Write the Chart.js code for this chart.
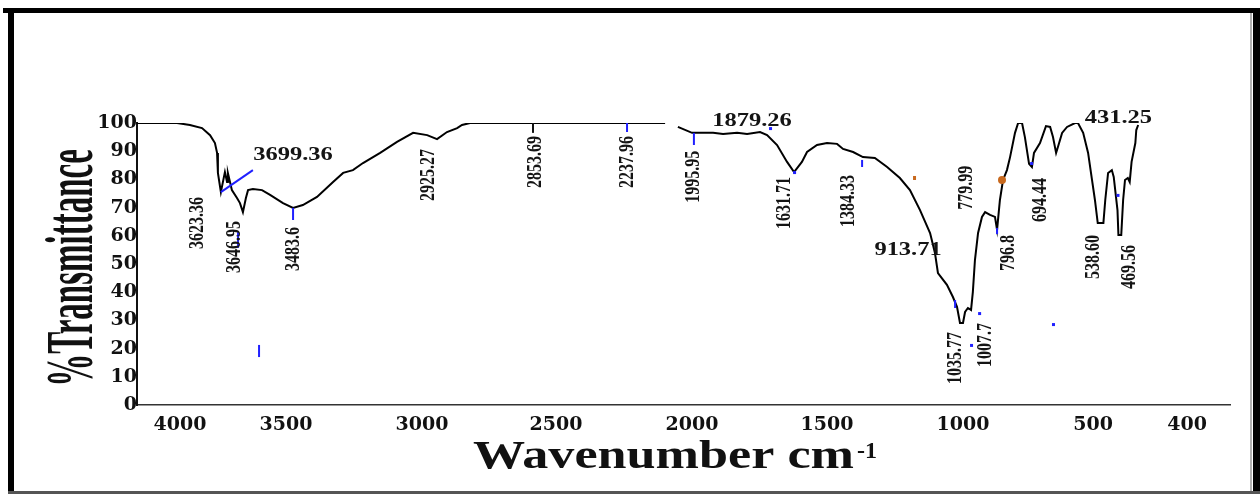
<!DOCTYPE html>
<html>
<head>
<meta charset="utf-8">
<title>FTIR spectrum</title>
<script src="https://cdn.jsdelivr.net/npm/chart.js@4.4.1/dist/chart.umd.min.js"></script>
<style>
    body { margin: 0; background: #ffffff; }
    canvas { display: block; }
</style>
</head>
<body>
<canvas id="ftirChart" width="1260" height="495"></canvas>
<script>
// x axis labels as printed (cm-1) and where each one sits along the axis (0 = left end, 1 = right end)
var tickLabels = [4000, 3500, 3000, 2500, 2000, 1500, 1000, 500, 400];
var tickPos = [0.0393, 0.1363, 0.2608, 0.3834, 0.5078, 0.6313, 0.7557, 0.8747, 0.9607];

// spectrum: wavenumber on the printed axis, % transmittance (null = gap in the trace)
var wavenumber = [4203, 4014, 3953, 3896, 3858, 3835, 3825, 3821, 3807, 3788,
    3778, 3774, 3755, 3731, 3717, 3703, 3689, 3679, 3656, 3613,
    3575, 3514, 3474, 3438, 3386, 3327, 3290, 3254, 3217, 3154,
    3092, 3033, 2981, 2944, 2907, 2869, 2851, 2821, 2099, 2075,
    2052, 2000, 1970, 1922, 1885, 1833, 1796, 1748, 1722, 1685,
    1648, 1622, 1593, 1574, 1537, 1500, 1463, 1441, 1404, 1368,
    1324, 1279, 1232, 1195, 1158, 1121, 1103, 1092, 1059, 1037,
    1022, 1011, 1000, 992, 981, 969, 962, 954, 942, 927,
    915, 896, 877, 869, 858, 846, 831, 819, 800, 788,
    773, 762, 746, 735, 727, 704, 681, 665, 654, 642,
    635, 619, 600, 569, 558, 538, 519, 504, 498, 495,
    489, 487, 484, 480, 478, 474, 473, 470, 468, 466,
    463, 461, 459, 455, 454, 452];
var transmittance = [100, 100, 99.3, 98.2, 95.7, 92.9, 89.4, 82.3, 75.5, 82.6,
    79.1, 82.3, 76.2, 73.4, 71.6, 68.4, 73.4, 76.2, 76.6, 76.2,
    74.5, 71.6, 69.9, 70.9, 73.8, 79.1, 82.3, 83.3, 85.8, 89.4,
    93.3, 96.5, 95.7, 94.3, 96.8, 98.2, 99.3, 100, 100, null,
    98.6, 96.5, 96.5, 96.5, 96.1, 96.5, 96.1, 96.8, 95.7, 92.2,
    86.2, 82.6, 86.2, 89.7, 92.2, 92.9, 92.6, 90.8, 89.7, 87.9,
    87.6, 84.4, 80.5, 76.2, 69.1, 61.0, 53.9, 46.8, 42.6, 38.3,
    34.8, 29.1, 29.1, 33.0, 34.4, 33.7, 40.1, 51.4, 61.0, 66.7,
    68.4, 67.4, 66.7, 62.1, 72.7, 79.8, 83.3, 87.9, 96.5, 100,
    100, 95.0, 85.5, 84.4, 89.4, 92.9, 98.9, 98.6, 95.0, 89.4,
    91.5, 96.5, 98.6, 100, 100, 96.5, 89.4, 79.8, 72.7, 64.5,
    64.5, 72.7, 82.3, 83.3, 80.9, 69.1, 60.3, 60.3, 72.7, 79.8,
    80.5, 79.1, 86.2, 92.9, 97.5, 99.3];

// peak labels: text, where it is written (axis wavenumber, %T), vertical or not
var peakText = ['3623.36', '3646.95', '3483.6', '3699.36', '2925.27', '2853.69', '2237.96', '1995.95', '1879.26', '1631.71',
    '1384.33', '913.71', '779.99', '1035.77', '1007.7', '796.8', '694.44', '538.60', '469.56', '431.25'];
var peakWn = [3920, 3741, 3474, 3474, 2978, 2578, 2239, 1996, 1778, 1656, 1423, 1202, 985, 1029, 915, 827, 704, 500, 461, 473];
var peakT = [64.5, 56.0, 55.3, 88.7, 81.6, 86.2, 86.2, 80.9, 100.7, 71.6, 72.3, 55.0, 77.0, 16.7, 21.3, 53.9, 72.7, 52.5, 48.9, 101.8];
var peakVertical = [1, 1, 1, 0, 1, 1, 1, 1, 0, 1, 1, 0, 1, 1, 1, 1, 1, 1, 1, 0];

// little peak pointer strokes (from -> to) and stray dots left in the figure
var markWn1 = [3807, 3474, 3726, 3627, 2586, 2239, 1993, 1371, 1029, 869];
var markT1 = [75.5, 69.9, 61.3, 21.3, 100, 100, 96.5, 86.9, 37.2, 62.8];
var markWn2 = [3656, 3474, 3726, 3627, 2586, 2239, 1993, 1371, 1029, 869];
var markT2 = [83.3, 65.6, 55.7, 17.0, 96.5, 96.8, 92.2, 84.4, 34.4, 60.6];
var dotWn = [1711, 938, 969, 654, 474, 738, 1622];
var dotT = [98.2, 32.6, 21.3, 28.7, 74.5, 85.8, 82.6];

// printed wavenumber -> position along the (uneven) axis
function axisPos(wn) {
    var i = 0;
    while (i < tickLabels.length - 2 && wn < tickLabels[i + 1]) i++;
    var a = tickLabels[i], b = tickLabels[i + 1];
    return tickPos[i] + (wn - a) / (b - a) * (tickPos[i + 1] - tickPos[i]);
}

var points = wavenumber.map(function (wn, i) {
    return { x: axisPos(wn), y: transmittance[i] };
});

var ftirDecor = {
    id: 'ftirDecor',
    beforeDraw: function (chart) {
        var ctx = chart.ctx;
        ctx.save();
        ctx.fillStyle = '#ffffff';
        ctx.fillRect(0, 0, chart.width, chart.height);
        // outer frame
        ctx.fillStyle = '#000000';
        ctx.fillRect(3, 8, 1257, 5);
        ctx.fillRect(8, 8, 6, 486);
        ctx.fillRect(1253, 8, 7, 486);
        ctx.fillStyle = '#555555';
        ctx.fillRect(8, 491, 1252, 3);
        ctx.fillStyle = '#b0b0b0';
        ctx.fillRect(1250, 13, 2, 478);
        ctx.restore();
    },
    afterDraw: function (chart) {
        var ctx = chart.ctx;
        var xs = chart.scales.x, ys = chart.scales.y;
        function px(wn) { return xs.getPixelForValue(axisPos(wn)); }
        function py(t) { return ys.getPixelForValue(t); }

        ctx.save();
        // pointer strokes
        ctx.lineWidth = 2;
        for (var i = 0; i < markWn1.length; i++) {
            ctx.strokeStyle = i === 4 ? '#111111' : '#2020ff';
            ctx.beginPath();
            ctx.moveTo(px(markWn1[i]), py(markT1[i]));
            ctx.lineTo(px(markWn2[i]), py(markT2[i]));
            ctx.stroke();
        }
        ctx.fillStyle = '#2020ff';
        for (var d = 0; d < dotWn.length; d++) {
            ctx.fillRect(px(dotWn[d]) - 1, py(dotT[d]) - 1, 3, 3);
        }
        // orange marker near 779.99
        ctx.fillStyle = '#c8691e';
        ctx.beginPath();
        ctx.arc(px(850), py(79.8), 4, 0, Math.PI * 2);
        ctx.fill();
        ctx.fillRect(px(1180) - 1, py(80.5) - 2, 3, 4);

        // peak labels
        ctx.fillStyle = '#141414';
        ctx.textAlign = 'center';
        ctx.textBaseline = 'middle';
        for (var k = 0; k < peakText.length; k++) {
            ctx.save();
            ctx.translate(px(peakWn[k]), py(peakT[k]));
            if (peakVertical[k]) {
                ctx.rotate(-Math.PI / 2);
                ctx.scale(1, 1.35);
                ctx.font = 'bold 16px "Liberation Serif"';
            } else {
                ctx.scale(1.36, 1);
                ctx.font = 'bold 18px "Liberation Serif"';
            }
            ctx.fillText(peakText[k], 0, 0);
            ctx.restore();
        }

        // axis titles
        ctx.fillStyle = '#111111';
        ctx.textAlign = 'left';
        ctx.textBaseline = 'alphabetic';
        ctx.font = 'bold 40px "Liberation Serif"';
        var main = 'Wavenumber cm';
        var w = ctx.measureText(main).width;
        ctx.save();
        ctx.translate(473, 468);
        ctx.scale(381 / w, 1);
        ctx.fillText(main, 0, 0);
        ctx.restore();
        ctx.font = 'bold 24px "Liberation Serif"';
        ctx.fillText('-1', 857, 458);

        ctx.save();
        ctx.translate(92, 268);
        ctx.rotate(-Math.PI / 2);
        ctx.scale(1, 2.05);
        ctx.textAlign = 'center';
        ctx.font = 'bold 33px "Liberation Serif"';
        ctx.fillText('%Transmittance', 0, 0);
        ctx.restore();
        ctx.restore();
    }
};

var ctx = document.getElementById('ftirChart').getContext('2d');
var ftirChart = new Chart(ctx, {
    type: 'line',
    data: {
        datasets: [{
            label: '%T',
            data: points,
            borderColor: '#000000',
            borderWidth: 2,
            pointRadius: 0,
            tension: 0,
            spanGaps: false,
            fill: false
        }]
    },
    options: {
        responsive: false,
        animation: false,
        layout: { padding: { left: 0, top: 123, right: 30, bottom: 0 } },
        plugins: {
            legend: { display: false },
            tooltip: { enabled: false }
        },
        scales: {
            x: {
                type: 'linear',
                min: 0,
                max: 1,
                afterBuildTicks: function (scale) {
                    scale.ticks = tickPos.map(function (p) { return { value: p }; });
                },
                afterFit: function (scale) { scale.height = 90; },
                grid: { display: false, drawTicks: false },
                border: { display: true, color: '#333333', width: 1.5 },
                ticks: {
                    autoSkip: false,
                    maxRotation: 0,
                    padding: 9,
                    color: '#111111',
                    font: { family: '"DejaVu Serif"', weight: 'bold', size: 19 },
                    callback: function (value, index) { return tickLabels[index]; }
                }
            },
            y: {
                min: 0,
                max: 100,
                afterFit: function (scale) { scale.width = 137; },
                grid: { display: false, drawTicks: false },
                border: { display: true, color: '#111111', width: 2 },
                ticks: {
                    stepSize: 10,
                    padding: 0,
                    color: '#111111',
                    font: { family: '"DejaVu Serif"', weight: 'bold', size: 19 }
                }
            }
        }
    },
    plugins: [ftirDecor]
});
</script>
</body>
</html>
